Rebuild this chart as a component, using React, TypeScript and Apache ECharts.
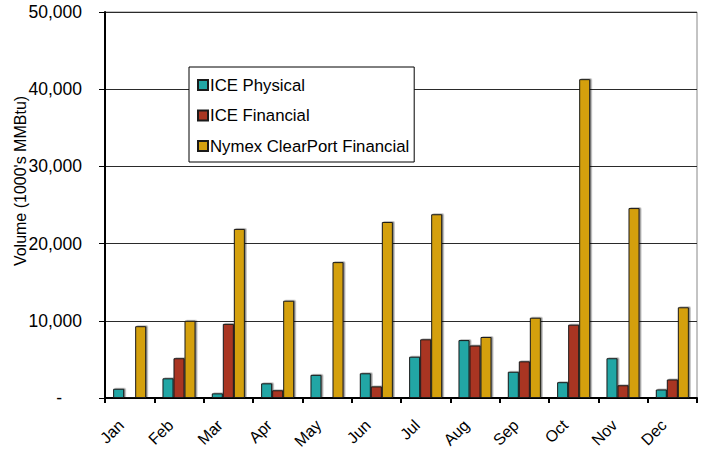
import React, { useEffect, useRef } from "react";
import * as echarts from "echarts";

const months = ["Jan", "Feb", "Mar", "Apr", "May", "Jun", "Jul", "Aug", "Sep", "Oct", "Nov", "Dec"];
const icePhysical = [1200, 2550, 600, 1900, 3000, 3200, 5350, 7500, 3400, 2050, 5150, 1100];
const iceFinancial = [150, 5150, 9600, 1000, 50, 1500, 7600, 6800, 4750, 9500, 1650, 2400];
const nymexClearPort = [9300, 10000, 21900, 12600, 17600, 22800, 23800, 7900, 10400, 41300, 24600, 11750];
const yTicks = [0, 10000, 20000, 30000, 40000, 50000];

const colors = { teal: "#22A6A5", red: "#A93622", gold: "#D4A010" };

export default function App() {
  const ref = useRef<HTMLDivElement>(null);
  useEffect(() => {
    if (!ref.current) return;
    const chart = echarts.init(ref.current, undefined, { renderer: "svg" });
    const barStyle = (c: string) => ({
      color: c,
      borderColor: "#1a1a1a",
      borderWidth: 1,
      shadowColor: "rgba(0,0,0,0.45)",
      shadowBlur: 1,
      shadowOffsetX: 1.5,
      shadowOffsetY: -0.5,
    });
    chart.setOption({
      animation: false,
      textStyle: { fontFamily: "Liberation Sans, Arial, sans-serif" },
      grid: {
        left: 105,
        right: 5,
        top: 12,
        bottom: 56,
        containLabel: false,
        outerBoundsMode: "none",
        show: true,
        borderColor: "#888",
        borderWidth: 1,
      },
      legend: {
        orient: "vertical",
        left: 189,
        top: 67,
        padding: [9.5, 5, 7.5, 8],
        backgroundColor: "#fff",
        borderColor: "#000",
        borderWidth: 1,
        itemWidth: 10,
        itemHeight: 10,
        itemGap: 13.5,
        icon: "rect",
        textStyle: { fontSize: 16.75, color: "#000", lineHeight: 17, padding: [0, 0, 0, -3] },
        data: ["ICE Physical", "ICE Financial", "Nymex ClearPort Financial"],
      },
      xAxis: {
        type: "category",
        data: months,
        axisLine: { lineStyle: { color: "#000", width: 2 } },
        axisTick: { show: true, length: 5, inside: false, lineStyle: { color: "#000", width: 2 } },
        axisLabel: { rotate: 45, fontSize: 16, color: "#000", margin: 16, interval: 0, padding: [0, 12, 0, 0] },
      },
      yAxis: {
        type: "value",
        min: yTicks[0],
        max: yTicks[yTicks.length - 1],
        interval: 10000,
        name: "Volume (1000's MMBtu)",
        nameLocation: "middle",
        nameGap: 77,
        nameMoveOverlap: false,
        nameTextStyle: { fontSize: 16, color: "#000", padding: [0, 0, 0, 48] },
        axisLine: { show: true, lineStyle: { color: "#000", width: 2 } },
        axisTick: { show: true, length: 6, lineStyle: { color: "#000", width: 1 } },
        splitLine: { show: true, lineStyle: { color: "#2a2a2a", width: 1 } },
        axisLabel: {
          fontSize: 17.5,
          color: "#000",
          margin: 23,
          formatter: (v: number) => (v === 0 ? "{d|-}" : v.toLocaleString("en-US")),
          rich: { d: { fontSize: 17.5, color: "#000", padding: [0, 20, 0, 0] } },
        },
      },
      series: [
        { name: "ICE Physical", type: "bar", data: icePhysical, itemStyle: barStyle(colors.teal), barGap: "0%", barCategoryGap: "33%" },
        { name: "ICE Financial", type: "bar", data: iceFinancial, itemStyle: barStyle(colors.red), barGap: "0%", barCategoryGap: "33%" },
        { name: "Nymex ClearPort Financial", type: "bar", data: nymexClearPort, itemStyle: barStyle(colors.gold), barGap: "0%", barCategoryGap: "33%" },
      ],
    });
    return () => chart.dispose();
  }, []);
  return <div ref={ref} style={{ width: 702, height: 454, position: "absolute", left: 0, top: 0 }} />;
}
